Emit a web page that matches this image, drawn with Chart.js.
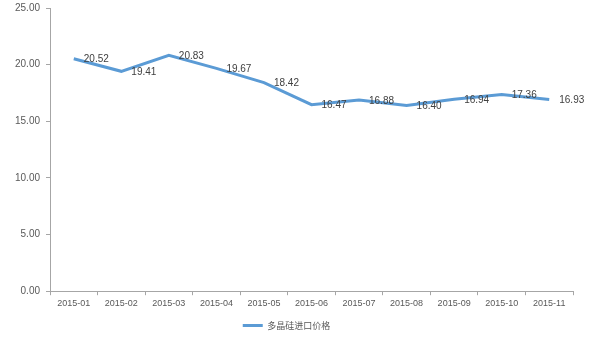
<!DOCTYPE html>
<html>
<head>
<meta charset="utf-8">
<script src="https://cdn.jsdelivr.net/npm/chart.js@4"></script>
<style>
  html, body { margin: 0; padding: 0; background: #fff; }
  #wrap { width: 600px; height: 342px; position: relative; }
</style>
</head>
<body>
<div id="wrap"><canvas id="priceChart"></canvas></div>
<script>
// data
const months = ['2015-01', '2015-02', '2015-03', '2015-04', '2015-05', '2015-06',
                '2015-07', '2015-08', '2015-09', '2015-10', '2015-11'];
const prices = [20.52, 19.41, 20.83, 19.67, 18.42, 16.47, 16.88, 16.40, 16.94, 17.36, 16.93];
const seriesName = '多晶硅进口价格';
const yTicks = [0, 5, 10, 15, 20, 25];

// value labels to the right of each point
const valueLabels = {
    id: 'valueLabels',
    afterDatasetsDraw(chart) {
        const ctx = chart.ctx;
        const meta = chart.getDatasetMeta(0);
        ctx.save();
        ctx.font = '10px "Liberation Sans"';
        ctx.fillStyle = '#404040';
        ctx.textAlign = 'left';
        ctx.textBaseline = 'middle';
        meta.data.forEach((pt, i) => {
            ctx.fillText(prices[i].toFixed(2), pt.x + 10, pt.y + 1);
        });
        ctx.restore();
    }
};

const ctx = document.getElementById('priceChart').getContext('2d');
new Chart(ctx, {
    type: 'line',
    data: {
        labels: months,
        datasets: [{
            label: seriesName,
            data: prices,
            borderColor: '#5B9BD5',
            backgroundColor: '#5B9BD5',
            borderWidth: 3,
            pointRadius: 0,
            tension: 0,
            fill: false
        }]
    },
    options: {
        responsive: true,
        maintainAspectRatio: false,
        animation: false,
        layout: { padding: { top: 7, right: 27, left: 0, bottom: 2 } },
        plugins: {
            tooltip: { enabled: false },
            legend: {
                position: 'bottom',
                labels: {
                    usePointStyle: true,
                    pointStyle: 'line',
                    pointStyleWidth: 20,
                    color: '#595959',
                    font: { family: 'Noto Sans CJK SC', size: 9 },
                    padding: 9
                }
            }
        },
        scales: {
            x: {
                offset: true,
                grid: { offset: true, drawOnChartArea: false, drawTicks: true, tickLength: 4, color: '#a6a6a6' },
                border: { color: '#a6a6a6', width: 1 },
                ticks: { color: '#595959', font: { family: 'Liberation Sans', size: 9 }, maxRotation: 0, autoSkip: false, padding: 3 }
            },
            y: {
                min: 0,
                max: 25,
                afterFit: scale => { scale.width = 50; },
                afterBuildTicks: scale => { scale.ticks = yTicks.map(v => ({ value: v })); },
                grid: { drawOnChartArea: false, drawTicks: true, tickLength: 4, color: '#a6a6a6' },
                border: { color: '#a6a6a6', width: 1 },
                ticks: {
                    color: '#595959',
                    font: { family: 'Liberation Sans', size: 10, lineHeight: 0.4 },
                    padding: 6,
                    callback: v => v.toFixed(2)
                }
            }
        }
    },
    plugins: [valueLabels]
});
</script>
</body>
</html>
